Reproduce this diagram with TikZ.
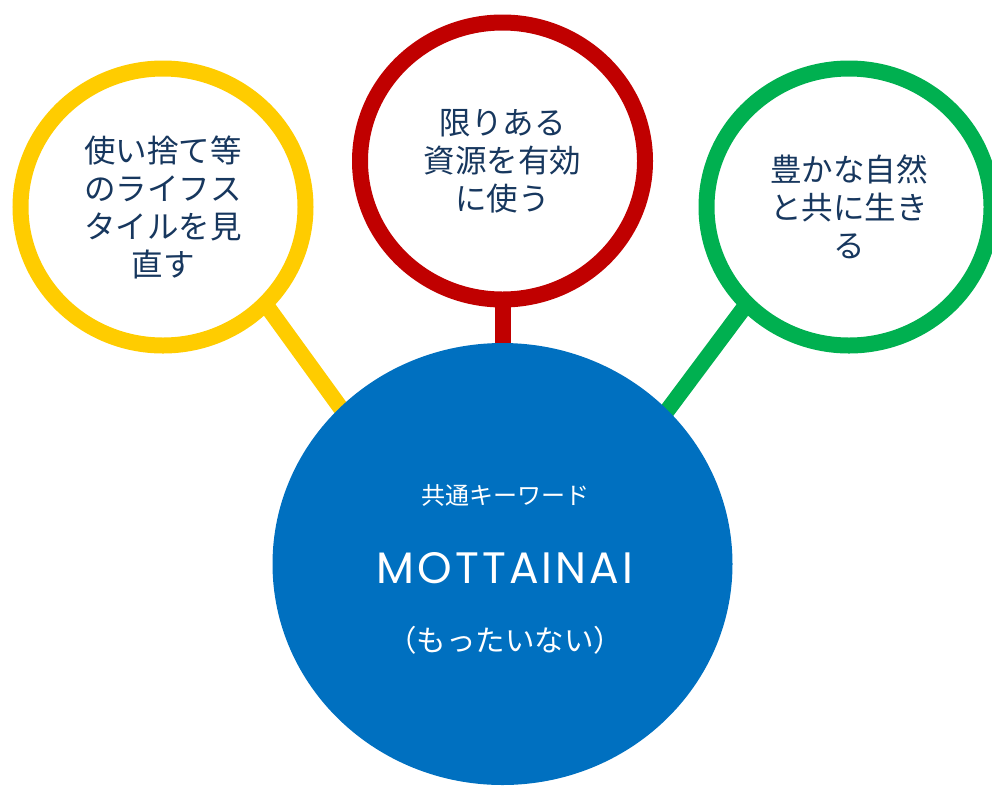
\documentclass[tikz,border=0pt]{standalone}
\usepackage{fontspec}
\setmainfont{Noto Sans CJK JP}
\newfontfamily\latinfont[LetterSpace=7]{Poppins}
\usetikzlibrary{shapes.geometric,backgrounds}
\definecolor{cyellow}{HTML}{FFCC00}
\definecolor{cred}{HTML}{C00000}
\definecolor{cgreen}{HTML}{00B050}
\definecolor{cblue}{HTML}{0070C0}
\definecolor{ctext}{HTML}{17375E}
\tikzset{
  ring/.style={ellipse, draw=#1, line width=16pt, fill=white, inner sep=0pt,
    minimum width=285pt, minimum height=277pt, text=ctext, align=center,
    font=\fontsize{31.5}{38}\selectfont},
  link/.style={draw=#1, line width=16pt, shorten <=-10pt, shorten >=-14pt},
  whitetext/.style={text=white, inner sep=0pt}
}
\begin{document}
\begin{tikzpicture}[x=1pt,y=-1pt]
\useasboundingbox (0,0) rectangle (992,785);
\clip (0,0) rectangle (992,785);
\node[ring=cyellow] (y) at (163,207) {使い捨て等\\のライフス\\タイルを見\\直す};
\node[ring=cred] (r) at (502.5,161) {限りある\\資源を有効\\に使う};
\node[ring=cgreen] (g) at (849,207) {豊かな自然\\と共に生き\\る};
\node[ellipse, fill=cblue, inner sep=0pt, minimum width=460pt, minimum height=442pt] (b) at (502.5,564) {};
\node[whitetext, font=\fontsize{24}{28}\selectfont] (k) at (505,495) {共通キーワード};
\node[whitetext, font=\latinfont\fontsize{44}{50}\selectfont] (m) at (505,568) {MOTTAINAI};
\node[whitetext, font=\fontsize{29.5}{34}\selectfont] (p) at (505,640) {（もったいない）};
\begin{scope}[on background layer]
  \draw[link=cyellow] (y.-44) -- (b.136);
  \draw[link=cred] (r.south) -- (b.north);
  \draw[link=cgreen] (g.224.5) -- (b.43.7);
\end{scope}
\end{tikzpicture}
\end{document}
